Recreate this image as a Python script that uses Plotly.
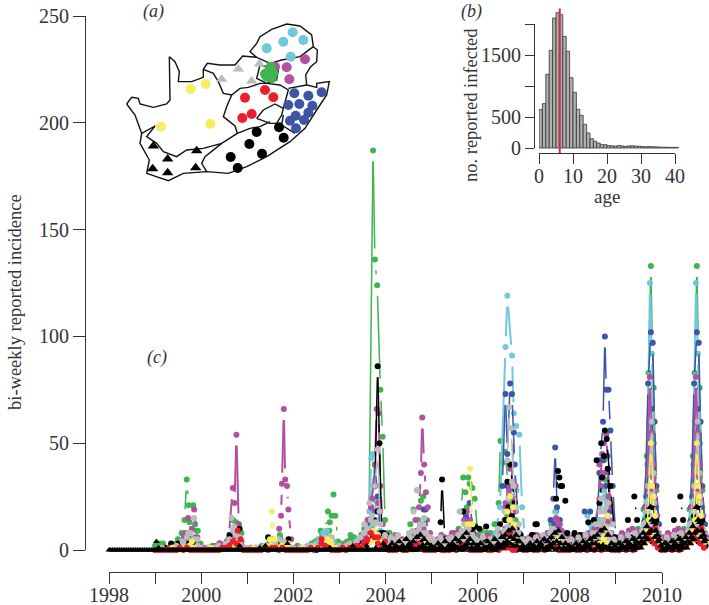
import math
import plotly.graph_objects as go

# ---------- panel (c): outbreak points, (year, incidence) ----------
green_main = [(1999.00,2),(1999.06,2),(1999.45,3),(1999.58,8),(1999.64,14),(1999.69,33),(1999.73,21),(1999.83,21),(1999.87,12),(1999.93,9),(1999.99,3),
 (2000.40,2),(2000.62,6),(2000.70,14),(2000.76,13),(2000.82,12),(2000.88,8),(2001.55,2),(2001.72,6),(2001.82,3),
 (2002.55,4),(2002.68,7),(2002.76,18),(2002.80,13),(2002.84,16),(2002.88,26),(2002.92,16),(2002.98,4),
 (2003.40,4),(2003.55,8),(2003.65,12),(2003.74,187),(2003.78,136),(2003.83,124),(2003.90,75),(2003.95,53),(2004.00,14),(2004.06,8),(2004.15,5),
 (2004.55,12),(2004.62,19),(2004.70,28),(2004.78,23),(2004.83,25),(2004.90,14),(2005.00,5),
 (2005.50,8),(2005.66,18),(2005.70,34),(2005.75,27),(2005.81,34),(2005.84,31),(2005.90,29),(2005.95,24),(2006.02,7),
 (2006.30,8),(2006.40,12),(2006.47,22),(2006.51,51),(2006.56,41),(2006.61,46),(2006.68,30),(2006.76,22),(2006.84,14),(2006.95,6),
 (2007.50,6),(2007.62,12),(2007.72,18),(2007.78,14),(2007.88,8),(2008.50,8),(2008.65,14),(2008.72,28),(2008.78,33),(2008.84,20),(2008.92,8),
 (2009.40,6),(2009.55,8),(2009.62,19),(2009.69,44),(2009.73,83),(2009.78,133),(2009.81,97),(2009.84,76),(2009.90,28),(2009.96,12),
 (2010.40,6),(2010.55,8),(2010.62,19),(2010.69,44),(2010.73,83),(2010.78,133),(2010.81,97),(2010.84,76),(2010.90,28),(2010.96,12)]
green_low = [(1999.10,3),(1999.50,5),(1999.75,13),(1999.90,9),(2000.80,9),(2001.60,4),(2002.60,9),(2003.25,7),(2003.55,10),(2003.95,6),(2004.10,8),
 (2004.20,4),(2004.60,8),(2005.30,5),(2005.60,10),(2006.10,9),(2006.22,8),(2006.38,12),(2006.60,14),(2007.35,6),(2007.62,8),(2008.30,7),(2008.62,14),(2008.86,25),(2009.50,10),(2009.66,15),(2009.88,20),(2010.50,10),(2010.66,15),(2010.88,20)]
magenta_main = [(1999.50,3),(1999.62,7),(1999.66,8),(1999.72,15),(1999.80,10),(1999.85,19),(1999.92,6),(2000.40,3),(2000.60,5),(2000.69,29),(2000.73,22),(2000.77,54),(2000.82,12),(2000.88,4),
 (2001.50,2),(2001.70,10),(2001.74,16),(2001.76,31),(2001.80,66),(2001.83,33),(2001.87,30),(2001.90,19),(2001.96,5),(2002.60,2),(2002.85,3),
 (2003.50,7),(2003.62,14),(2003.70,20),(2003.78,40),(2003.82,66),(2003.86,64),(2003.90,30),(2003.95,12),(2004.05,4),
 (2004.55,6),(2004.66,14),(2004.74,20),(2004.78,36),(2004.81,62),(2004.85,40),(2004.89,27),(2004.93,20),(2004.98,8),
 (2005.55,8),(2005.72,14),(2005.78,18),(2005.85,14),(2005.90,9),(2006.50,8),(2006.62,20),(2006.72,38),(2006.78,32),(2006.84,18),(2006.92,8),
 (2007.55,8),(2007.72,15),(2007.80,12),(2007.92,6),(2008.55,10),(2008.66,24),(2008.72,45),(2008.76,50),(2008.81,54),(2008.85,38),(2008.90,20),(2008.98,6),
 (2009.58,8),(2009.70,30),(2009.76,81),(2009.80,55),(2009.85,40),(2009.92,16),(2010.58,8),(2010.70,30),(2010.76,81),(2010.80,55),(2010.85,40),(2010.92,16)]
cyan_main = [(1999.40,2),(1999.55,3),(1999.70,5),(2000.70,3),(2002.72,9),(2002.78,5),(2003.58,8),(2003.66,18),(2003.70,43),(2003.74,45),(2003.80,23),(2003.84,19),(2003.90,9),(2003.98,3),
 (2004.70,7),(2004.80,10),(2004.90,5),(2005.75,6),(2005.85,10),(2006.40,8),(2006.50,20),(2006.62,95),(2006.66,119),(2006.76,91),(2006.80,64),(2006.85,58),(2006.92,54),(2006.98,20),(2007.05,5),
 (2007.55,7),(2007.70,14),(2007.80,10),(2008.50,10),(2008.66,14),(2008.76,28),(2008.84,24),(2008.94,12),
 (2009.60,10),(2009.70,40),(2009.76,125),(2009.80,92),(2009.85,50),(2009.90,20),(2009.96,8),(2010.60,10),(2010.70,40),(2010.76,125),(2010.80,92),(2010.85,50),(2010.90,20),(2010.96,8)]
blue_main = [(2003.60,5),(2003.70,20),(2003.78,40),(2003.84,25),(2003.90,8),(2004.80,12),(2004.88,19),(2004.94,6),(2005.70,7),(2005.78,14),(2005.84,22),(2005.92,8),
 (2006.40,6),(2006.55,30),(2006.62,73),(2006.66,45),(2006.72,78),(2006.76,73),(2006.82,40),(2006.90,12),(2007.00,4),
 (2007.45,6),(2007.60,14),(2007.66,24),(2007.70,48),(2007.74,20),(2007.80,14),(2007.85,8),
 (2008.34,18),(2008.46,18),(2008.50,8),(2008.60,10),(2008.68,42),(2008.74,60),(2008.78,100),(2008.81,75),(2008.86,75),(2008.90,56),(2008.95,30),(2009.02,5),
 (2009.55,8),(2009.65,20),(2009.72,78),(2009.78,102),(2009.82,97),(2009.86,60),(2009.90,30),(2009.95,12),
 (2010.55,8),(2010.65,20),(2010.72,78),(2010.78,102),(2010.82,97),(2010.86,60),(2010.90,30),(2010.95,12)]
black_main = [(1999.35,3),(2000.62,7),(2000.84,10),(2001.46,6),(2001.90,5),(2003.78,30),(2003.84,86),(2003.88,50),(2003.93,8),(2004.03,7),
 (2005.21,13),(2005.24,33),(2005.30,5),(2005.70,18),(2005.90,10),(2006.05,10),(2006.20,11),(2006.50,12),(2006.66,32),(2006.72,40),(2006.82,22),(2006.95,7),
 (2007.22,7),(2007.30,12),(2007.72,24),(2007.76,37),(2007.79,34),(2007.82,30),(2007.85,30),(2007.92,23),(2008.12,8),(2008.24,7),
 (2008.42,13),(2008.60,42),(2008.70,50),(2008.78,56),(2008.82,52),(2008.90,30),(2009.00,6),(2009.28,14),(2009.42,25),(2009.48,14),(2009.70,12),(2009.80,20),(2009.90,14),
 (2010.28,14),(2010.42,25),(2010.48,14),(2010.70,12),(2010.80,20),(2010.90,14)]
grey_main = [(1999.60,4),(1999.72,8),(1999.85,15),(1999.92,5),(2000.66,15),(2000.72,11),(2000.84,6),(2001.60,3),(2001.80,4),(2002.70,4),(2002.84,6),
 (2003.55,12),(2003.66,22),(2003.78,30),(2003.84,47),(2003.90,12),(2004.00,7),(2004.52,8),(2004.62,18),(2004.70,28),(2004.85,15),(2004.95,6),
 (2005.62,18),(2005.72,12),(2005.85,12),(2006.45,10),(2006.66,42),(2006.70,67),(2006.74,57),(2006.80,30),(2006.90,12),
 (2007.62,10),(2007.72,8),(2008.58,12),(2008.70,24),(2008.76,18),(2008.86,22),(2008.96,12),
 (2009.62,12),(2009.72,30),(2009.80,60),(2009.85,22),(2009.92,10),(2010.62,12),(2010.72,30),(2010.80,60),(2010.85,22),(2010.92,10)]
yellow_main = [(1999.80,4),(2000.80,4),(2001.50,5),(2001.54,18),(2001.60,5),(2001.90,3),(2002.75,5),(2002.82,4),(2003.80,6),(2003.90,4),
 (2004.90,4),(2005.85,38),(2005.90,12),(2006.66,18),(2006.72,25),(2006.80,12),(2007.75,5),(2008.80,10),
 (2009.70,10),(2009.78,50),(2009.84,25),(2009.90,10),(2010.70,10),(2010.78,50),(2010.84,25),(2010.90,10)]
red_main = [(2000.80,9),(2000.86,5),(2002.62,5),(2003.60,4),(2003.85,6),(2004.00,4),(2006.72,8),(2009.75,5),(2009.88,10),(2010.75,5),(2010.88,10)]

# ---------- panel (c): other cities around the outbreaks ----------
cluster_magenta = [(2003.72,24),(2003.78,18),(2003.85,22),(2006.62,22),(2006.66,14),(2006.70,28),(2006.74,18),(2006.80,24),(2006.84,30),(2007.66,10),(2007.74,14),(2008.66,40),(2008.70,30),(2008.74,36),(2008.82,44),(2008.86,25),
 (2009.66,20),(2009.72,35),(2009.76,50),(2009.80,28),(2009.84,30),(2009.88,14),(2010.66,20),(2010.72,35),(2010.76,50),(2010.80,28),(2010.84,30),(2010.88,14)]
cluster_cyan = [(2003.76,30),(2003.82,14),(2006.64,30),(2006.70,20),(2006.78,40),(2006.86,28),(2007.66,12),(2007.70,18),(2007.76,8),(2008.40,16),(2008.46,12),(2008.70,34),(2008.78,25),(2008.82,22),(2008.88,14),
 (2009.70,22),(2009.74,60),(2009.82,34),(2009.86,24),(2010.70,22),(2010.74,60),(2010.82,34),(2010.86,24)]
cluster_blue = [(2004.84,19),(2005.76,16),(2005.80,14),(2006.66,30),(2006.74,25),(2006.80,55),(2007.68,12),(2007.76,10),(2008.66,36),(2008.74,42),(2008.80,30),(2008.84,44),(2008.90,18),
 (2009.68,25),(2009.74,40),(2009.80,66),(2009.88,20),(2010.68,25),(2010.74,40),(2010.80,66),(2010.88,20)]
cluster_green = [(2003.70,15),(2003.86,22),(2004.72,14),(2005.78,20),(2006.66,16),(2006.74,12),(2007.70,14),(2007.78,10),(2008.76,42),(2008.82,24),(2008.88,18),(2009.70,18),(2009.78,30),(2009.86,22),(2010.70,18),(2010.78,30),(2010.86,22)]
cluster_grey = [(2003.62,10),(2003.72,16),(2003.80,13),(2003.88,18),(2004.60,9),(2004.76,12),(2004.80,6),(2005.72,8),(2005.78,10),(2006.60,18),(2006.68,24),(2006.76,32),(2006.84,20),(2007.68,8),(2008.68,18),(2008.74,14),(2008.80,20),(2008.84,16),
 (2009.72,18),(2009.78,26),(2009.84,36),(2009.88,16),(2010.72,18),(2010.78,26),(2010.84,36),(2010.88,16)]
cluster_black = [(2003.76,14),(2003.84,18),(2006.62,14),(2006.68,20),(2006.76,16),(2006.86,10),(2007.68,10),(2008.54,14),(2008.66,22),(2008.72,34),(2008.76,44),(2008.84,38),(2008.88,22),(2009.72,16),(2009.82,30),(2009.86,12),(2010.72,16),(2010.82,30),(2010.86,12)]
cluster_yellow = [(2003.76,9),(2003.84,7),(2005.80,12),(2006.70,14),(2006.78,20),(2008.76,6),(2008.84,16),(2009.74,14),(2009.80,30),(2009.86,16),(2010.74,14),(2010.80,30),(2010.86,16)]

# ---------- panel (c): low levels, 13 values a year from 1999 to 2003 ----------
grey_early = [0,0,1,0,0,1,2,1,3,6,8,5,2, 1,0,1,0,1,2,1,3,5,9,7,3,1, 1,0,0,1,1,2,2,4,3,5,4,2,1, 1,0,1,0,1,2,2,1,4,6,5,3,1, 2,1,2,3,2,4,6,8,10,14,12,7,3]
magenta_early = [0,0,0,1,0,1,1,3,5,7,4,6,2, 1,1,0,1,2,3,1,4,6,5,4,2,1, 0,1,1,0,1,2,1,2,4,3,2,1,1, 0,1,0,1,1,2,1,1,2,3,2,1,0, 1,2,1,3,2,3,5,6,9,8,6,4,2]
cyan_early = [0,0,0,0,1,2,3,4,2,3,2,1,0, 0,1,0,0,1,1,2,1,3,2,1,1,0, 0,0,1,0,1,1,2,1,2,1,1,0,0, 0,1,0,1,2,2,3,5,8,9,6,4,1, 1,1,2,3,3,5,6,8,11,9,7,4,2]
yellow_early = [0,0,0,0,1,0,0,1,1,2,1,0,0, 0,0,1,0,0,0,1,1,2,3,1,0,0, 0,1,0,0,1,1,2,1,1,2,1,0,0, 0,0,1,0,0,1,1,2,3,4,3,1,0, 0,0,1,1,1,1,2,3,4,5,4,2,1]
green_early = [1,2,3,0,1,1,2,4,6,8,5,3,1, 1,0,1,2,1,3,2,4,6,9,7,3,1, 0,1,0,1,2,1,3,5,4,7,3,1,1, 1,2,1,0,2,3,4,5,7,8,9,4,2, 2,3,4,5,6,4,7,9,12,10,8,5,4]
black_early = [0,0,1,0,1,2,3,1,2,3,4,2,0, 0,0,1,0,0,1,1,2,2,3,2,1,0, 0,0,0,1,1,2,1,2,3,4,2,1,0, 0,0,1,0,1,1,0,1,2,1,2,1,0, 0,1,1,1,2,2,3,2,4,6,5,3,8]
red_early = [0,0,0,0,0,0,0,1,0,1,0,0,0, 0,0,0,0,0,0,1,1,2,4,3,1,0, 0,0,0,0,0,1,0,1,1,0,1,0,0, 0,0,0,0,0,1,0,1,3,2,1,0,0, 0,1,0,1,1,2,1,3,5,8,6,3,1]

# ---------- panel (c): low-level band, 13 values a year from 2004 to 2010 ----------
tri_band_a = [2,1,3,2,4,2,5,3,4,6,7,5,3, 2,1,3,1,4,2,3,5,4,6,8,5,3, 2,3,1,4,2,5,3,6,7,9,10,7,4,
              2,1,3,2,4,3,5,4,6,8,9,6,3, 2,1,3,2,4,3,5,6,7,9,10,7,3, 2,3,2,4,3,5,4,6,8,11,20,13,7, 2,3,2,4,3,5,4,6,8,11,20,13,7]
tri_band_b = [0,1,0,1,1,0,2,1,0,1,2,1,0, 1,0,1,0,0,1,2,1,1,2,3,1,0, 1,0,1,2,1,1,2,3,4,6,5,4,1,
              0,1,0,1,2,1,1,2,3,4,3,1,0, 1,0,1,1,2,2,3,3,2,2,1,1,0, 0,1,1,2,2,2,3,4,6,8,14,9,5, 0,1,1,2,2,2,3,4,6,8,14,9,5]
tri_band_c = [0,0,0,1,0,0,1,0,0,0,1,0,0, 0,0,0,1,0,0,0,1,0,0,1,0,0, 0,0,0,1,0,0,1,1,2,3,2,2,0,
              0,0,1,0,0,1,0,0,1,0,1,0,0, 0,0,1,0,0,1,0,0,1,0,1,0,0, 0,0,1,0,1,0,1,1,3,5,9,6,4, 0,0,1,0,1,0,1,1,3,5,9,6,4]
grey_band = [5,3,2,4,3,2,4,6,5,7,6,8,4, 3,2,4,1,3,2,4,3,6,5,8,4,2, 3,2,1,3,2,4,5,4,8,6,7,5,2,
             1,2,3,1,2,3,2,4,3,5,6,4,2, 2,1,3,2,4,3,2,5,8,6,7,5,2, 1,2,1,3,2,4,3,5,7,9,12,8,3, 1,2,1,3,2,4,3,5,7,9,12,8,3]
grey_band2 = [4,6,5,7,4,3,6,5,8,10,12,8,6, 5,3,6,4,5,6,4,7,9,6,10,7,5, 4,6,3,5,4,7,6,9,11,14,10,8,5,
              4,5,3,6,4,7,5,8,10,9,7,5,4, 5,3,6,4,7,5,8,6,12,10,11,8,5, 3,6,4,7,5,8,6,9,11,14,16,10,5, 3,6,4,7,5,8,6,9,11,14,16,10,5]
magenta_band = [4,2,3,1,2,3,2,4,6,8,7,5,3, 2,3,2,4,3,6,5,7,6,4,5,3,2, 3,4,2,3,1,3,5,7,6,9,8,5,3,
                2,3,1,2,4,2,3,5,4,8,6,3,2, 3,1,2,3,4,2,4,6,9,8,10,6,3, 1,4,3,5,6,4,5,3,5,8,10,7,4, 1,4,3,5,6,4,5,3,5,8,10,7,4]
magenta_band2 = [6,4,7,3,5,4,6,7,9,12,10,7,4, 4,5,7,6,4,8,7,9,8,6,7,4,5, 6,3,7,5,4,6,8,10,9,13,11,6,4,
                 5,6,4,7,5,6,8,7,9,12,9,5,6, 4,6,5,7,6,8,7,9,12,14,13,8,4, 6,8,7,9,10,8,9,7,10,12,14,9,6, 6,8,7,9,10,8,9,7,10,12,14,9,6]
cyan_band = [3,1,2,1,2,1,2,3,4,6,4,2,1, 1,2,1,2,1,2,3,2,4,5,3,2,1, 2,1,2,1,3,4,5,3,6,4,5,3,2,
             1,2,1,3,2,1,3,6,7,5,4,2,1, 2,1,2,3,5,8,6,4,9,5,7,4,2, 1,2,1,2,3,4,3,5,7,6,8,5,2, 1,2,1,2,3,4,3,5,7,6,8,5,2]
blue_band = [1,0,1,2,1,0,1,2,3,2,4,2,1, 1,2,1,0,1,2,1,3,2,4,2,1,1, 0,1,2,3,1,2,4,3,5,4,3,2,1,
             2,3,1,2,1,3,4,5,8,6,7,3,1, 2,3,4,2,3,5,6,7,5,6,4,3,1, 2,4,5,3,2,4,6,5,7,9,6,4,2, 2,4,5,3,2,4,6,5,7,9,6,4,2]
yellow_band = [1,0,0,1,0,1,0,0,1,2,1,1,0, 0,1,0,1,0,0,0,1,1,2,1,0,1, 0,0,1,0,0,1,1,2,3,5,4,2,1,
               0,1,0,1,0,0,1,1,1,2,1,1,0, 0,1,1,1,0,1,1,2,3,5,3,2,1, 0,1,1,2,1,1,2,3,4,5,7,5,4, 0,1,1,2,1,1,2,3,4,5,7,5,4]
red_band = [1,0,0,0,1,0,0,1,2,3,1,0,0, 0,0,1,0,0,0,1,0,1,2,1,0,0, 0,0,1,0,0,1,0,1,1,1,0,0,1,
            0,0,1,0,0,1,0,1,2,1,0,0,0, 0,1,0,0,1,0,1,0,1,0,1,1,0, 0,0,1,0,1,0,1,2,4,6,9,3,1, 0,0,1,0,1,0,1,2,4,6,9,3,1]
black_band = [3,2,4,2,1,3,2,1,3,2,5,3,2, 2,1,3,2,4,1,2,3,2,6,4,10,11, 3,2,4,3,2,1,3,2,6,4,5,7,3,
              4,2,7,12,3,2,4,3,5,7,6,2,8, 3,7,2,4,3,5,4,6,5,4,3,2,3, 2,3,2,4,6,5,3,4,5,6,4,3,2, 2,3,2,4,6,5,3,4,5,6,4,3,2]
tri_early = [(1999.03,4),(1999.08,1),(2000.84,2),(2001.28,1),(2001.40,2),(2001.88,3),(2002.80,1),(2003.30,2),(2003.60,2),(2003.80,1),(2003.96,3)]
base_zero_count = 156   # fortnights at zero, 1998 to 2003

# ---------- panel (b) ----------
age_counts = [618,715,1188,1575,2097,2183,2150,1800,1560,1134,898,624,527,382,242,150,108,80,54,54,
              38,35,30,40,32,25,35,35,30,28,22,20,22,20,18,15,12,12,10,10,10]
mean_age = 6.1

# ---------- panel (a): map traced in its own coordinates ----------
outline = [(80,312),(95,292),(115,295),(120,312),(160,322),(200,312),(210,300),(208,170),(225,185),(238,215),(235,245),(275,245),(310,232),(310,208),(322,190),(360,195),(405,195),(428,168),(470,172),(450,155),(470,130),(480,110),(515,88),(560,72),(600,78),(635,105),(640,140),(652,150),(650,185),(632,200),(617,225),(620,255),(650,262),(650,250),(688,245),(680,285),(650,330),(615,385),(570,425),(500,470),(440,500),(385,520),(320,515),(250,520),(205,542),(170,530),(140,520),(148,480),(120,430),(125,400),(105,345),(80,312)]
border_nw = [(310,208),(340,220),(355,245),(370,280),(395,285),(420,265),(445,262),(480,250),(500,250)]
border_fs = [(395,285),(380,320),(370,350),(405,378),(412,400),(450,385),(480,380),(510,365)]
border_ls = [(470,355),(490,330),(525,312),(550,325),(545,345),(530,370),(510,370),(470,355)]
border_fs2 = [(550,325),(565,270),(540,255),(500,250)]
border_wc = [(125,400),(165,378),(140,410),(170,430),(190,455),(230,470),(260,450),(310,445),(365,430),(405,405),(412,400)]
border_ec = [(365,430),(340,450),(315,470),(305,490),(320,515)]
border_kzn = [(550,345),(545,375),(585,400)]
border_mp = [(565,265),(620,255)]
border_lp = [(470,172),(510,190),(545,180),(600,170),(640,140)]
border_gp = [(480,195),(535,210),(530,240),(500,250),(470,235),(480,195)]
borders = [outline,border_nw,border_fs,border_ls,border_fs2,border_wc,border_ec,border_kzn,border_mp,border_lp,border_gp]
cities_cyan = [(578,97),(550,125),(610,120),(500,145),(572,170)]
cities_magenta = [(615,178),(560,202),(568,238),(525,200)]
cities_grey = [(415,207),(478,192),(365,238),(455,243)]
cities_green = [(512,200),(505,215),(495,222),(515,235),(500,230),(520,220)]
cities_red = [(495,270),(520,292),(435,293),(455,342),(427,354)]
cities_blue = [(583,280),(625,287),(665,277),(565,315),(598,312),(637,317),(625,338),(587,347),(612,360),(570,362),(588,385)]
cities_yellow = [(272,267),(317,252),(183,380),(331,371)]
cities_black = [(537,382),(551,413),(470,396),(448,432),(486,461),(392,471),(413,504)]
cities_tri = [(160,438),(290,452),(203,477),(158,506),(203,518),(287,503)]

GREEN, CYAN, BLUE, MAGENTA = "#3fb54d", "#6fc8dc", "#3c55a5", "#b3509f"
GREY, YELLOW, RED, BLACK = "#bcbcbc", "#f8ec60", "#ed1c2e", "#000000"
SERIF = "Liberation Serif"
TEXT = "#333333"
W, H = 709, 605
PX_YEAR, PX_UNIT = 46.0, 2.136
MAX_STEP = 0.12   # years; longer steps are gaps in the reported series

fig = go.Figure()

def band_points(values, shift=0.0, start=2004):
    return [(start + i / 13 + shift, v) for i, v in enumerate(values)]

def add_series(points, color, symbol="circle", size=6, gap=11, lw=1.5):
    """R's type='b': segments stop short of each point."""
    lx, ly = [], []
    for (x0, y0), (x1, y1) in zip(points, points[1:]):
        if x1 - x0 > MAX_STEP:
            continue
        dx, dy = (x1 - x0) * PX_YEAR, (y1 - y0) * PX_UNIT
        d = math.hypot(dx, dy)
        if d > 2 * gap:
            t = gap / d
            lx += [x0 + (x1 - x0) * t, x1 - (x1 - x0) * t, None]
            ly += [y0 + (y1 - y0) * t, y1 - (y1 - y0) * t, None]
    fig.add_trace(go.Scatter(x=lx, y=ly, mode="lines", line=dict(color=color, width=lw),
                             hoverinfo="skip", showlegend=False, xaxis="x", yaxis="y"))
    fig.add_trace(go.Scatter(x=[p[0] for p in points], y=[p[1] for p in points], mode="markers",
                             marker=dict(color=color, size=size, symbol=symbol, line_width=0),
                             showlegend=False, xaxis="x", yaxis="y"))

add_series(green_main, GREEN)
add_series(green_low, GREEN)
add_series(band_points(green_early, 0.02, 1999), GREEN)
add_series(band_points(blue_band, 0.02, 2004), GREEN)
add_series(cluster_green, GREEN)
add_series(cyan_main, CYAN, lw=2)
add_series(band_points(cyan_early, 0.04, 1999), CYAN)
add_series(band_points(cyan_band, 0.02), CYAN)
add_series(cluster_cyan, CYAN)
add_series(blue_main, BLUE)
add_series(band_points(blue_band, 0.05), BLUE)
add_series(cluster_blue, BLUE)
add_series(magenta_main, MAGENTA, lw=2)
add_series(band_points(magenta_early, 0.03, 1999), MAGENTA)
add_series(band_points(magenta_band, 0.03), MAGENTA)
add_series(band_points(magenta_band2, 0.07), MAGENTA)
add_series(cluster_magenta, MAGENTA)
add_series(black_main, BLACK)
add_series(band_points(black_early, 0.05, 1999), BLACK)
add_series(band_points(black_band, 0.04), BLACK)
add_series(cluster_black, BLACK)
add_series(grey_main, GREY)
add_series(band_points(grey_early, 0.0, 1999), GREY)
add_series(band_points(grey_band, 0.0), GREY)
add_series(band_points(grey_band2, 0.05), GREY)
add_series(cluster_grey, GREY)
add_series(yellow_main, YELLOW)
add_series(band_points(yellow_early, 0.06, 1999), YELLOW)
add_series(band_points(yellow_band, 0.06), YELLOW)
add_series(cluster_yellow, YELLOW)
add_series(band_points(red_early, 0.0, 1999), RED)
add_series(band_points(red_band, 0.01), RED)
add_series(red_main, RED)
base = [(1998 + i / 26, 0) for i in range(base_zero_count)]
add_series(sorted(base + tri_early), BLACK, symbol="triangle-up", size=6)
add_series(band_points(tri_band_a, 0.0), BLACK, symbol="triangle-up", size=7)
add_series(band_points(tri_band_b, 0.04), BLACK, symbol="triangle-up", size=7)
add_series(band_points(tri_band_c, 0.02), BLACK, symbol="triangle-up", size=7)

# decorative axes of panel (c)
fig.add_trace(go.Scatter(x=[1998, 2010], y=[0, 250], mode="markers", marker=dict(opacity=0),
                         hoverinfo="skip", showlegend=False, xaxis="x2", yaxis="y2"))

# panel (b)
fig.add_trace(go.Bar(x=[a + 0.5 for a in range(len(age_counts))], y=age_counts, width=1,
                     marker=dict(color="#b0b0b0", line=dict(color="#333333", width=0.8)),
                     showlegend=False, xaxis="x3", yaxis="y3"))
fig.add_trace(go.Scatter(x=[mean_age, mean_age], y=[-80, 2250], mode="lines", line=dict(color="#c8303f", width=2),
                         hoverinfo="skip", showlegend=False, xaxis="x3", yaxis="y3"))
fig.add_trace(go.Scatter(x=[0, 40], y=[0, 2000], mode="markers", marker=dict(opacity=0),
                         hoverinfo="skip", showlegend=False, xaxis="x4", yaxis="y4"))

# panel (a)
for b in borders:
    fig.add_trace(go.Scatter(x=[p[0] for p in b], y=[p[1] for p in b], mode="lines",
                             line=dict(color="#111111", width=1.4), hoverinfo="skip", showlegend=False,
                             xaxis="x5", yaxis="y5"))
for pts, color, sym in [(cities_cyan, CYAN, "circle"), (cities_magenta, MAGENTA, "circle"), (cities_grey, GREY, "triangle-up"),
                        (cities_green, GREEN, "circle"), (cities_red, RED, "circle"), (cities_blue, BLUE, "circle"),
                        (cities_yellow, YELLOW, "circle"), (cities_black, BLACK, "circle"), (cities_tri, BLACK, "triangle-up")]:
    fig.add_trace(go.Scatter(x=[p[0] for p in pts], y=[p[1] for p in pts], mode="markers",
                             marker=dict(color=color, size=10, symbol=sym, line_width=0), showlegend=False,
                             xaxis="x5", yaxis="y5"))

tick_font = dict(family=SERIF, size=20, color=TEXT)
hidden = dict(visible=False, fixedrange=True)
ydom = lambda top, bottom: [(H - bottom) / H, (H - top) / H]
even = [str(y) if y % 2 == 0 else "" for y in range(1998, 2011)]

fig.update_layout(
    width=W, height=H, autosize=False, paper_bgcolor="white", plot_bgcolor="rgba(0,0,0,0)",
    margin=dict(l=0, r=0, t=0, b=0, autoexpand=False), showlegend=False, barmode="overlay",
    xaxis=dict(domain=[0, 1], range=[1998 - 109 / PX_YEAR, 1998 + 600 / PX_YEAR], **hidden),
    yaxis=dict(domain=[0, 1], range=[-55 / PX_UNIT, 550 / PX_UNIT], **hidden),
    xaxis2=dict(domain=[109 / W, 662 / W], range=[1998, 2010], anchor="free", position=(H - 572) / H, side="bottom",
                showgrid=False, zeroline=False, showline=True, linecolor="#333333", linewidth=1,
                ticks="outside", ticklen=11, tickcolor="#333333", tickvals=list(range(1998, 2011)), ticktext=even,
                tickangle=0, tickfont=tick_font, ticklabelstandoff=-6),
    yaxis2=dict(domain=ydom(16, 550), range=[0, 250], anchor="free", position=85 / W, side="left",
                showgrid=False, zeroline=False, showline=True, linecolor="#333333", linewidth=1,
                ticks="outside", ticklen=12, tickcolor="#333333", tickvals=[0, 50, 100, 150, 200, 250], tickfont=tick_font),
    xaxis3=dict(domain=[539 / W, (539 + 42 * 3.4) / W], range=[0, 42], anchor="y3", **hidden),
    yaxis3=dict(domain=ydom(5, 160), range=[-12 / 0.062, 143 / 0.062], anchor="x3", **hidden),
    xaxis4=dict(domain=[539 / W, 675 / W], range=[0, 40], anchor="free", position=(H - 153) / H, side="bottom",
                showgrid=False, zeroline=False, showline=True, linecolor="#333333", linewidth=1,
                ticks="outside", ticklen=10, tickcolor="#333333", tickvals=[0, 10, 20, 30, 40], tickangle=0, tickfont=tick_font,
                ticklabelstandoff=-5),
    yaxis4=dict(domain=ydom(24, 148), range=[0, 2000], anchor="free", position=534 / W, side="left",
                showgrid=False, zeroline=False, showline=True, linecolor="#333333", linewidth=1,
                ticks="outside", ticklen=9, tickcolor="#333333", tickvals=[0, 500, 1000, 1500, 2000],
                ticktext=["0", "500", "", "1500", ""], tickfont=tick_font),
    xaxis5=dict(domain=[100 / W, 350 / W], range=[0, 750], anchor="y5", **hidden),
    yaxis5=dict(domain=ydom(0, 190), range=[570, 0], anchor="x5", **hidden),
)

def label(text, px, py, size=18, angle=0):
    fig.add_annotation(text=text, x=px / W, y=1 - py / H, xref="paper", yref="paper", showarrow=False,
                       xanchor="center", yanchor="middle", textangle=angle,
                       font=dict(family=SERIF, size=size, color=TEXT))

label("bi-weekly reported incidence", 15, 302, size=18.5, angle=-90)
label("no. reported infected", 471, 105, size=18.5, angle=-90)
label("age", 607, 197, size=19)
label("<i>(a)</i>", 153, 11)
label("<i>(b)</i>", 471, 11)
label("<i>(c)</i>", 157, 357)

# the page's default 8px body margin would push the figure out of the window
fig.write_html("out.html", config={"displayModeBar": False}, post_script="document.body.style.margin='0';")
